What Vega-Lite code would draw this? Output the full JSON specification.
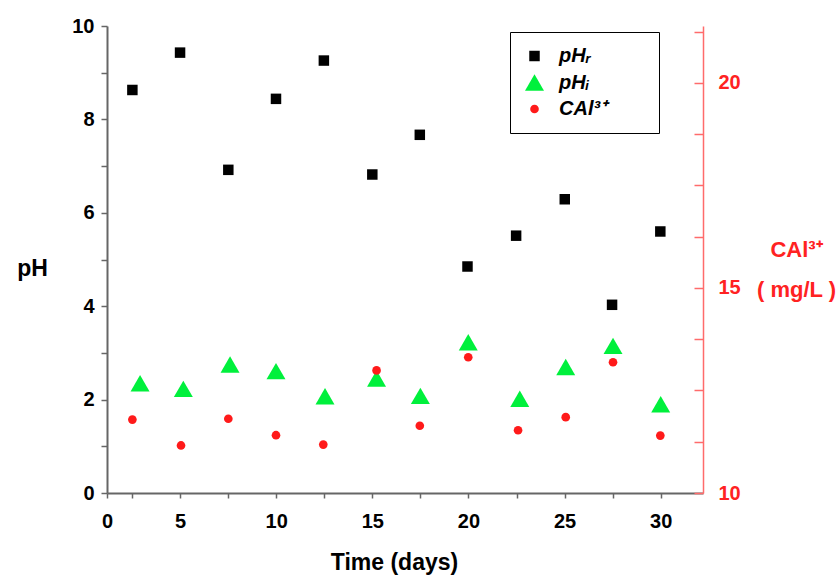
{
  "$schema": "https://vega.github.io/schema/vega-lite/v6.json",
  "width": 596,
  "height": 467,
  "autosize": {"type": "none"},
  "padding": {"left": 107, "top": 26, "right": 137, "bottom": 83},
  "background": "white",
  "config": {
    "view": {"stroke": null},
    "font": "Liberation Sans",
    "axis": {"labelFont": "Liberation Sans", "titleFont": "Liberation Sans", "grid": false}
  },
  "data": {
    "values": [
      {"day": 2.52, "series": "pHr", "value": 8.63},
      {"day": 5.0, "series": "pHr", "value": 9.43},
      {"day": 7.51, "series": "pHr", "value": 6.92},
      {"day": 9.99, "series": "pHr", "value": 8.44},
      {"day": 12.48, "series": "pHr", "value": 9.26},
      {"day": 15.0, "series": "pHr", "value": 6.82},
      {"day": 17.47, "series": "pHr", "value": 7.67},
      {"day": 19.95, "series": "pHr", "value": 4.85},
      {"day": 22.48, "series": "pHr", "value": 5.51},
      {"day": 25.01, "series": "pHr", "value": 6.29},
      {"day": 27.47, "series": "pHr", "value": 4.03},
      {"day": 29.98, "series": "pHr", "value": 5.6},
      {"day": 2.92, "series": "pHi", "value": 2.35},
      {"day": 5.17, "series": "pHi", "value": 2.23},
      {"day": 7.6, "series": "pHi", "value": 2.75},
      {"day": 9.99, "series": "pHi", "value": 2.61},
      {"day": 12.54, "series": "pHi", "value": 2.07},
      {"day": 15.22, "series": "pHi", "value": 2.45},
      {"day": 17.5, "series": "pHi", "value": 2.08},
      {"day": 19.99, "series": "pHi", "value": 3.23},
      {"day": 22.67, "series": "pHi", "value": 2.02},
      {"day": 25.06, "series": "pHi", "value": 2.7},
      {"day": 27.52, "series": "pHi", "value": 3.15},
      {"day": 30.0, "series": "pHi", "value": 1.9},
      {"day": 2.52, "series": "CAl", "value": 11.79},
      {"day": 5.05, "series": "CAl", "value": 11.16},
      {"day": 7.51, "series": "CAl", "value": 11.81},
      {"day": 9.99, "series": "CAl", "value": 11.41},
      {"day": 12.45, "series": "CAl", "value": 11.18},
      {"day": 15.22, "series": "CAl", "value": 12.99},
      {"day": 17.47, "series": "CAl", "value": 11.64},
      {"day": 19.99, "series": "CAl", "value": 13.31},
      {"day": 22.58, "series": "CAl", "value": 11.53},
      {"day": 25.06, "series": "CAl", "value": 11.85},
      {"day": 27.52, "series": "CAl", "value": 13.19},
      {"day": 29.98, "series": "CAl", "value": 11.4}
    ]
  },
  "encoding": {
    "x": {
      "field": "day",
      "type": "quantitative",
      "scale": {"domain": [1.2, 32.2], "nice": false, "zero": false},
      "axis": {
        "title": "Time (days)",
        "values": [1.2, 2.5, 5, 7.5, 10, 12.5, 15, 17.5, 20, 22.5, 25, 27.5, 30],
        "labelExpr": "datum.value < 2 ? '0' : (datum.value % 5 == 0 ? datum.label : '')",
        "domainColor": "#666666",
        "domainWidth": 2,
        "tickColor": "#666666",
        "tickWidth": 1.5,
        "tickSize": 5,
        "labelFontSize": 20,
        "labelFontWeight": "bold",
        "labelColor": "black",
        "labelPadding": 13,
        "labelFlush": false,
        "labelOverlap": false,
        "titleFontSize": 23,
        "titleFontWeight": "bold",
        "titleColor": "black",
        "titleX": 287,
        "titleY": 69,
        "titleBaseline": "middle",
        "titleAlign": "center"
      }
    },
    "color": {
      "field": "series",
      "type": "nominal",
      "scale": {"domain": ["pHr", "pHi", "CAl"], "range": ["#000000", "#00f03c", "#ff1a1a"]},
      "legend": {
        "title": null,
        "orient": "none",
        "legendX": 403,
        "legendY": 6,
        "strokeColor": "black",
        "fillColor": "white",
        "padding": 14,
        "rowPadding": 6,
        "labelOffset": 14,
        "labelFontSize": 20,
        "labelFontWeight": "bold",
        "labelFontStyle": "italic",
        "labelColor": "black",
        "labelLimit": 300,
        "labelExpr": "datum.label == 'pHr' ? 'pHᵣ' : (datum.label == 'pHi' ? 'pHᵢ' : 'CAl³⁺\u00a0\u00a0\u00a0\u00a0\u2800')"
      }
    },
    "shape": {
      "field": "series",
      "type": "nominal",
      "scale": {"domain": ["pHr", "pHi", "CAl"], "range": ["square", "triangle-up", "circle"]}
    },
    "size": {
      "field": "series",
      "type": "nominal",
      "scale": {"type": "ordinal", "domain": ["pHr", "pHi", "CAl"], "range": [110, 360, 75]}
    }
  },
  "layer": [
    {
      "transform": [{"filter": "datum.series != 'CAl'"}],
      "mark": {"type": "point", "filled": true, "opacity": 1},
      "encoding": {
        "y": {
          "field": "value",
          "type": "quantitative",
          "scale": {"domain": [0, 10], "nice": false},
          "axis": {
            "orient": "left",
            "title": "pH",
            "values": [0, 1, 2, 3, 4, 5, 6, 7, 8, 9, 10],
            "labelExpr": "datum.value % 2 == 0 ? datum.label : ''",
            "domainColor": "#666666",
            "domainWidth": 2,
            "tickColor": "#666666",
            "tickWidth": 1.5,
            "tickSize": 6,
            "labelFontSize": 20,
            "labelFontWeight": "bold",
            "labelColor": "black",
            "labelPadding": 7,
            "labelOverlap": false,
            "labelFlush": false,
            "titleAngle": 0,
            "titleFontSize": 23,
            "titleFontWeight": "bold",
            "titleColor": "black",
            "titleX": -75,
            "titleY": 242,
            "titleAlign": "center",
            "titleBaseline": "middle"
          }
        }
      }
    },
    {
      "transform": [{"filter": "datum.series == 'CAl'"}],
      "mark": {"type": "point", "filled": true, "opacity": 1},
      "encoding": {
        "y": {
          "field": "value",
          "type": "quantitative",
          "scale": {"domain": [10, 21.39], "nice": false, "zero": false},
          "axis": {
            "orient": "right",
            "title": ["CAl³⁺", "( mg/L )"],
            "format": "d",
            "values": [10, 10.625, 11.25, 11.875, 12.5, 13.125, 13.75, 14.375, 15, 15.625, 16.25, 16.875, 17.5, 18.125, 18.75, 19.375, 20, 20.625, 21.25],
            "labelExpr": "datum.value % 5 == 0 ? datum.label : ''",
            "domainColor": "#ff6b6b",
            "domainWidth": 1.5,
            "tickColor": "#ff6b6b",
            "tickWidth": 1.5,
            "tickSize": -9,
            "labelFontSize": 20,
            "labelFontWeight": "bold",
            "labelColor": "#ff2222",
            "labelPadding": 24,
            "labelOverlap": false,
            "labelFlush": false,
            "titleAngle": 0,
            "titleFontSize": 22,
            "titleFontWeight": "bold",
            "titleColor": "#ff2222",
            "titleX": 93,
            "titleY": 223,
            "titleLineHeight": 40,
            "titleAlign": "center",
            "titleBaseline": "middle"
          }
        }
      }
    }
  ],
  "resolve": {"scale": {"y": "independent"}, "axis": {"y": "independent"}}
}
